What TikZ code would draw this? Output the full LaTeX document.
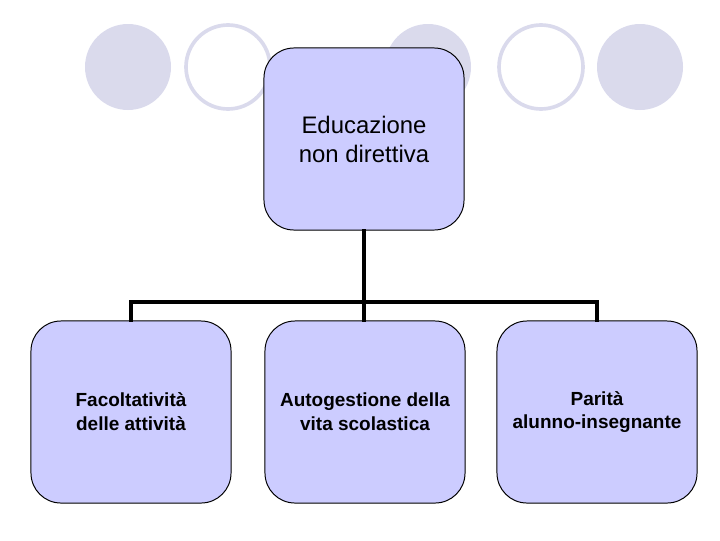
\documentclass[tikz,border=0pt]{standalone}
\usepackage{fontspec}
\setmainfont{Liberation Sans}
\usepackage{xcolor}
\usetikzlibrary{positioning,calc}
\definecolor{boxfill}{HTML}{CCCCFF}
\definecolor{dotfill}{HTML}{DADAEC}
\tikzset{
    card/.style={draw=black, line width=0.7pt, fill=boxfill, rounded corners=0.75cm,
        minimum width=5cm, minimum height=4.55cm, align=center, inner sep=0pt},
    topcard/.style={card, font=\fontsize{17}{20.6}\selectfont},
    leafcard/.style={card, font=\bfseries\fontsize{13.5}{17}\selectfont},
    link/.style={line width=2.4pt, line cap=rect},
    dot/.style={fill=dotfill},
    ring/.style={draw=dotfill, line width=2.6pt, fill=white}
}
\begin{document}
\begin{tikzpicture}[x=0.025cm, y=-0.025cm]
        \useasboundingbox (0,0) rectangle (720,540);

        % Decorative circles
        \fill[dot] (128,67) circle (43);
        \draw[ring] (228,67) circle (42);
        \fill[dot] (428,67) circle (43);
        \draw[ring] (541,67) circle (42);
        \fill[dot] (640,67) circle (43);

        % Root
        \node[topcard] (root) at (364,139) {Educazione\\non direttiva};

        % Leaves
        \node[leafcard] (facolt) at (131,412) {Facoltatività\\delle attività};
        \node[leafcard] (autog) at (365,412) {Autogestione della\\vita scolastica};
        \node[leafcard] (parita) at (597,412) {Parità\\alunno-insegnante};

        % Connectors
        \coordinate (hub) at (364,302);
        \draw[link] (root.south) -- (hub);
        \draw[link] (facolt.north) |- (hub) -| (parita.north);
        \draw[link] (hub) -- (hub |- autog.north);
    \end{tikzpicture}
\end{document}
